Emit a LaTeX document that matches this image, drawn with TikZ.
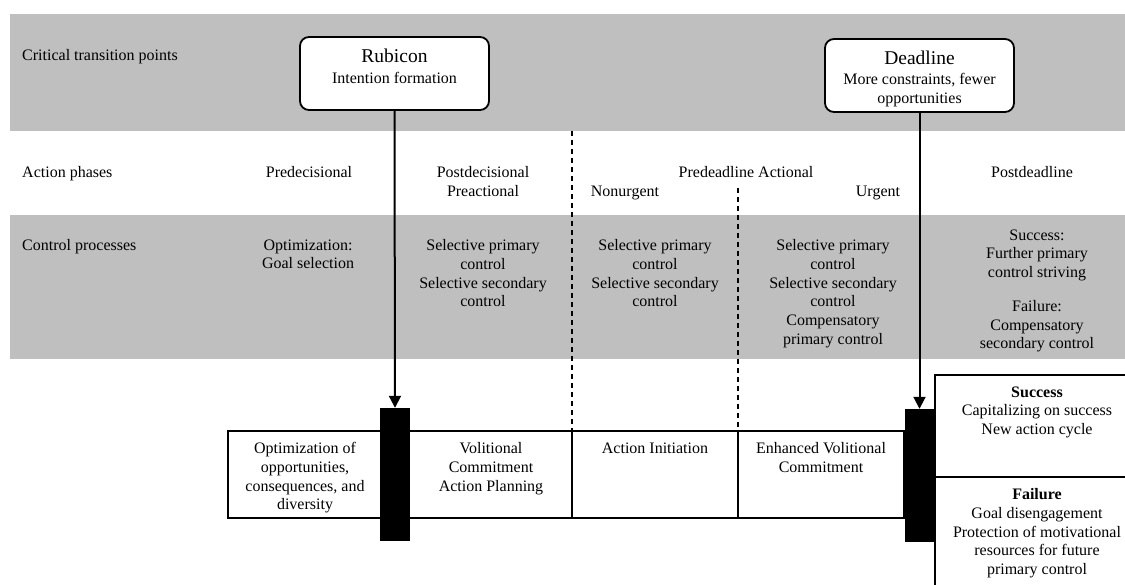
\documentclass[tikz,border=0pt]{standalone}
\usepackage{fontspec}
\setmainfont{Liberation Serif}
\usepackage{tikz}
\usetikzlibrary{positioning, arrows.meta}
\definecolor{bandgray}{RGB}{191,191,191}
\newcommand{\titlesize}{\fontsize{19.5}{22}\selectfont}
\tikzstyle{band} = [fill=bandgray]
\tikzstyle{rowlabel} = [anchor=base west, inner sep=0pt]
\tikzstyle{phase} = [anchor=base, inner sep=0pt]
\tikzstyle{cell} = [anchor=north, align=center, inner sep=0pt]
\tikzstyle{transition} = [rectangle, rounded corners=9pt, minimum width=189pt, minimum height=73pt, draw=black, line width=1.8pt, fill=white]
\tikzstyle{gate} = [rectangle, fill=black, minimum width=30pt, minimum height=133pt, inner sep=0pt]
\tikzstyle{frame} = [line width=1.5pt]
\tikzstyle{divider} = [line width=1.4pt, dash pattern=on 5pt off 4pt]
\tikzstyle{arrow} = [line width=2pt, -{Triangle[length=12pt, width=12pt]}]

\begin{document}
\begin{tikzpicture}[x=1pt, y=-1pt, font=\fontsize{16}{18.7}\selectfont]
\useasboundingbox (0,0) rectangle (1125,585);
\clip (0,0) rectangle (1125,585);
\fill [band] (10,14) rectangle (1125,131);
\fill [band] (10,215) rectangle (1125,359);

\node (lblcritical) [rowlabel] at (22,60.3) {Critical transition points};
\node (lblphases) [rowlabel] at (22,177.3) {Action phases};
\node (lblcontrol) [rowlabel] at (22,250.3) {Control processes};

\node (rubicon) [transition] at (394.5,73.5) {};
\node (rubicontext) [cell, below=13pt of rubicon.north] {{\titlesize Rubicon}\\[2pt]Intention formation};
\node (deadline) [transition] at (919.5,75.5) {};
\node (deadlinetext) [cell, below=13pt of deadline.north] {{\titlesize Deadline}\\[1pt]More constraints, fewer\\opportunities};

\node (predec) [phase] at (309,177.3) {Predecisional};
\node (postdec) [cell] at (483,166.4) {Postdecisional\\Preactional};
\node (predead) [phase] at (746,177.3) {Predeadline Actional};
\node (nonurgent) [phase] at (625,196.3) {Nonurgent};
\node (urgent) [phase] at (878,196.3) {Urgent};
\node (postdead) [phase] at (1032,177.3) {Postdeadline};

\node (ctrlpredec) [cell] at (308,239.4) {Optimization:\\Goal selection};
\node (ctrlpostdec) [cell] at (483,239.4) {Selective primary\\control\\Selective secondary\\control};
\node (ctrlnonurgent) [cell] at (655,239.4) {Selective primary\\control\\Selective secondary\\control};
\node (ctrlurgent) [cell] at (833,239.4) {Selective primary\\control\\Selective secondary\\control\\Compensatory\\primary control};
\node (ctrlsuccess) [cell] at (1037,229.4) {Success:\\Further primary\\control striving};
\node (ctrlfailure) [cell, below=19pt of ctrlsuccess] {Failure:\\Compensatory\\secondary control};

\draw [divider] (572,131) -- (572,431);
\draw [divider] (738,188) -- (738,431);
\draw [frame] (228,431) rectangle (904,518);
\draw [frame] (572,431) -- (572,518);
\draw [frame] (738,431) -- (738,518);
\draw [frame] (1130,375) -- (935,375) -- (935,590);
\draw [frame] (935,477) -- (1130,477);

\node (cellopt) [cell] at (305,442.4) {Optimization of\\opportunities,\\consequences, and\\diversity};
\node (cellvol) [cell] at (491,442.4) {Volitional\\Commitment\\Action Planning};
\node (cellinit) [cell] at (655,442.4) {Action Initiation};
\node (cellenh) [cell] at (821,442.4) {Enhanced Volitional\\Commitment};
\node (outsuccess) [cell] at (1037,386.4) {\textbf{Success}\\Capitalizing on success\\New action cycle};
\node (outfailure) [cell] at (1037,488.4) {\textbf{Failure}\\Goal disengagement\\Protection of motivational\\resources for future\\primary control};

\node (gate1) [gate] at (395,474.5) {};
\node (gate2) [gate] at (919.5,475.5) {};

\draw [arrow] (rubicon.south) -- (gate1.north);
\draw [arrow] (deadline.south) -- (gate2.north);
\end{tikzpicture}
\end{document}
